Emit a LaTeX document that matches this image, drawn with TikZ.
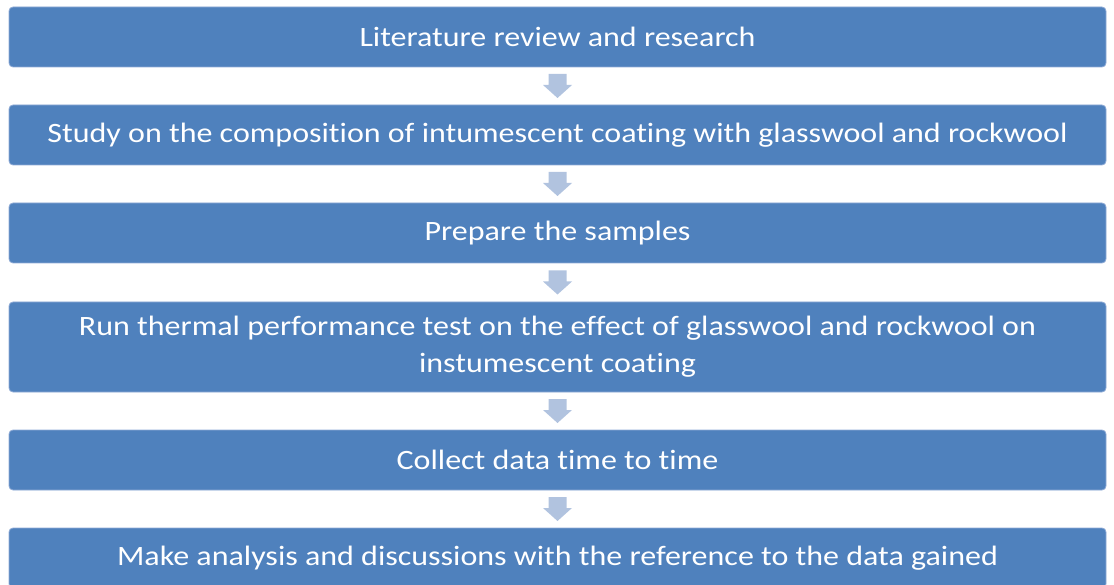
\documentclass[tikz,border=0pt]{standalone}
\usepackage{fontspec}
\setmainfont{Carlito}[FakeStretch=1.143, Ligatures={NoCommon,NoRare,NoContextual}]
\usetikzlibrary{calc}
\definecolor{boxblue}{HTML}{4F81BD}
\definecolor{boxedge}{HTML}{8EAAD6}
\definecolor{arrowc}{HTML}{B1C3DF}
\tikzset{
  stepbox/.style={rectangle, rounded corners=4pt, fill=boxblue, draw=boxedge, line width=0.8pt,
    minimum width=1097pt, minimum height=60pt, inner sep=0pt, text=white, align=center,
    font=\fontsize{28}{37}\selectfont},
  darrow/.pic={\fill[arrowc] (-9,-12) -- (9,-12) -- (9,-1) -- (14.5,-1) -- (0,12) -- (-14.5,-1) -- (-9,-1) -- cycle;}
}
\begin{document}
\begin{tikzpicture}[x=1pt,y=-1pt]
\useasboundingbox (0,0) rectangle (1114,585);
\clip (0,0) rectangle (1114,585);
\node[stepbox] (b1) at (557.5,37) {Literature review and research};
\node[stepbox] (b2) at (557.5,135) {Study on the composition of intumescent coating with glasswool and rockwool};
\node[stepbox] (b3) at (557.5,233) {Prepare the samples};
\node[stepbox, minimum height=90pt] (b4) at (557.5,347) {Run thermal performance test on the effect of glasswool and rockwool on\\instumescent coating};
\node[stepbox] (b5) at (557.5,460) {Collect data time to time};
\node[stepbox] (b6) at (557.5,558) {Make analysis and discussions with the reference to the data gained};
\foreach \a/\b in {b1/b2,b2/b3,b3/b4,b4/b5,b5/b6}{
  \coordinate (m\a) at ($(\a.south)!0.5!(\b.north)$);
  \pic at (m\a) {darrow};
}
\end{tikzpicture}
\end{document}
